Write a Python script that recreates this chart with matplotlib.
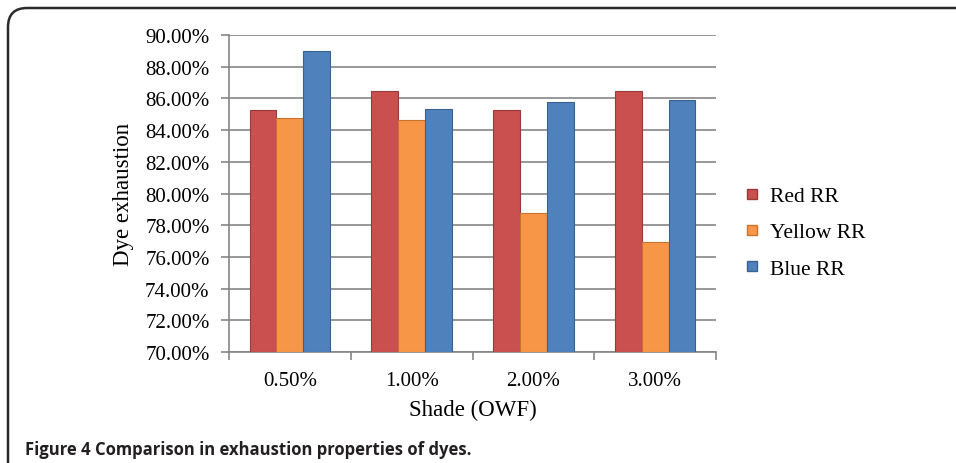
import matplotlib
matplotlib.use("Agg")
import matplotlib.pyplot as plt
import numpy as np
from matplotlib.patches import FancyBboxPatch
from matplotlib.lines import Line2D

categories = ["0.50%", "1.00%", "2.00%", "3.00%"]
series_names = ["Red RR", "Yellow RR", "Blue RR"]
red_rr = [85.25, 86.49, 85.29, 86.49]
yellow_rr = [84.74, 84.64, 78.75, 76.94]
blue_rr = [88.97, 85.35, 85.77, 85.92]
y_ticks = [70, 72, 74, 76, 78, 80, 82, 84, 86, 88, 90]

colors = ["#C9504E", "#F79646", "#4F81BD"]
edge_colors = ["#9A3A38", "#C87430", "#3A6190"]
serif = ["Liberation Serif", "DejaVu Serif"]

fig = plt.figure(figsize=(9.56, 4.64), dpi=100)
ax = fig.add_axes([0.2395, 0.2392, 0.749 - 0.2395, 0.9224 - 0.2392])

x = np.arange(len(categories))
w = 0.22
for i, (vals, c, ec, name) in enumerate(zip([red_rr, yellow_rr, blue_rr], colors, edge_colors, series_names)):
    ax.bar(x + (i - 1) * w, np.array(vals) - 70, bottom=70, width=w, color=c,
           edgecolor=ec, linewidth=0.8, label=name, zorder=3)

ax.set_ylim(70, 90)
ax.set_xlim(-0.5, len(categories) - 0.5)
ax.set_yticks(y_ticks)
ax.set_yticklabels([f"{t:.2f}%" for t in y_ticks], fontfamily=serif, fontsize=15)
ax.set_xticks(x)
ax.set_xticklabels(categories, fontfamily=serif, fontsize=15)
ax.set_xticks(np.arange(len(categories) + 1) - 0.5, minor=True)
ax.tick_params(axis="x", which="major", length=0, pad=14)
ax.tick_params(axis="x", which="minor", length=6, color="#868686", width=1.2)
ax.tick_params(axis="y", length=6, color="#868686", width=1.2, pad=8)
ax.yaxis.grid(True, color="#868686", linewidth=1.2, zorder=0)
for s in ["top", "right"]:
    ax.spines[s].set_visible(False)
for s in ["left", "bottom"]:
    ax.spines[s].set_color("#868686")
    ax.spines[s].set_linewidth(1.2)

ax.set_ylabel("Dye exhaustion", fontfamily=serif, fontsize=16.5, labelpad=8)
ax.set_xlabel("Shade (OWF)", fontfamily=serif, fontsize=16.5, labelpad=6)

handles = [Line2D([], [], marker="s", linestyle="none", markersize=7,
                  markerfacecolor=c, markeredgecolor=ec) for c, ec in zip(colors, edge_colors)]
leg = fig.legend(handles, series_names, loc="center left", bbox_to_anchor=(0.758, 0.497),
                 frameon=False, prop={"family": serif, "size": 15.5},
                 handlelength=0.7, handletextpad=0.5, labelspacing=0.75)

# Figure frame (rounded top-left corner, open at right/bottom)
frame = FancyBboxPatch((8 / 956, -0.2), 1.2, 1 - 9 / 464 + 0.2,
                       boxstyle="round,pad=0,rounding_size=0.02",
                       transform=fig.transFigure, facecolor="none",
                       edgecolor="#2b2b2b", linewidth=1.8, mutation_aspect=956 / 464)
fig.patches.append(frame)

fig.text(25 / 956, 1 - 450 / 464, "Figure 4 Comparison in exhaustion properties of dyes.",
         fontfamily=["Open Sans", "DejaVu Sans"], fontweight="bold", fontsize=12,
         color="#231f20", va="center", ha="left")

fig.savefig("out.png", dpi=100)
